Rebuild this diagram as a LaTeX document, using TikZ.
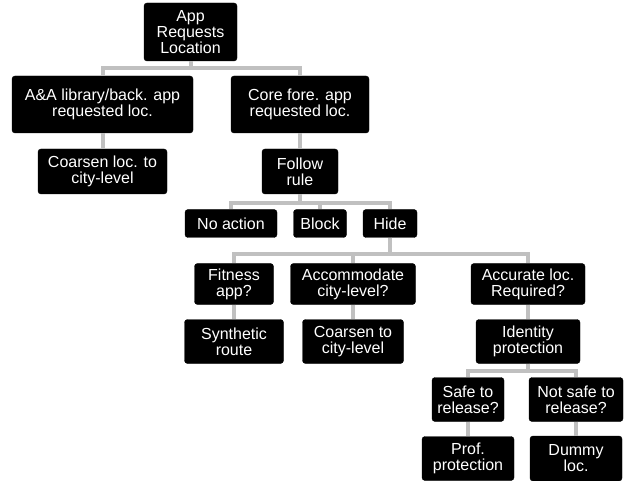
\documentclass[tikz,border=0pt]{standalone}
\usepackage{fontspec}
\setmainfont{Liberation Sans}
\usetikzlibrary{positioning}
\definecolor{linkgray}{RGB}{192,192,192}
\tikzset{
box/.style = {draw=black, fill=black, text=white, rounded corners=3pt, align=center, inner sep=0pt, font=\fontsize{16}{16}\selectfont},
link/.style = {draw=linkgray, line width=4pt}
}
\begin{document}
\begin{tikzpicture}[node distance=60pt]
		\useasboundingbox (0,0) rectangle (624pt,-481pt);
		\node [box, minimum width=93pt, minimum height=58pt] (root) at (190.5pt,-32pt) {App\\Requests\\Location};
		\node [box, below of=root, node distance=72.5pt, xshift=-88pt, minimum width=181pt, minimum height=57pt] (library) {A\&A library/back. app\\requested loc.};
		\node [box, right of=library, node distance=197.5pt, minimum width=138pt, minimum height=57pt] (core) {Core fore. app\\requested loc.};
		\node [box, below of=library, node distance=67pt, minimum width=129pt, minimum height=45pt] (coarsencity) {Coarsen loc. to\\city-level};
		\node [box, below of=core, node distance=67pt, minimum width=76pt, minimum height=45pt] (follow) {Follow\\rule};

		\node [box, below of=follow, node distance=52pt, xshift=-69pt, minimum width=92pt, minimum height=28pt] (noaction) {No action};
		\node [box, right of=noaction, node distance=89pt, minimum width=53pt, minimum height=28pt] (block) {Block};
		\node [box, right of=block, node distance=70pt, minimum width=54pt, minimum height=28pt] (hide) {Hide};

		\node [box, below of=noaction, node distance=60.5pt, xshift=3pt, minimum width=79pt, minimum height=41pt] (fitness) {Fitness\\app?};
		\node [box, right of=fitness, node distance=119pt, minimum width=125pt, minimum height=41pt] (accommodate) {Accommodate\\city-level?};
		\node [box, right of=accommodate, node distance=175pt, minimum width=114pt, minimum height=41pt] (accurate) {Accurate loc.\\Required?};

		\node [box, below of=fitness, node distance=57.5pt, minimum width=99pt, minimum height=44pt] (synthetic) {Synthetic\\route};
		\node [box, below of=accommodate, node distance=57.5pt, minimum width=101pt, minimum height=44pt] (coarsen) {Coarsen to\\city-level};
		\node [box, below of=accurate, node distance=57.5pt, minimum width=104pt, minimum height=44pt] (identity) {Identity\\protection};

		\node [box, below of=identity, node distance=58pt, xshift=-60pt, minimum width=72pt, minimum height=44pt] (safe) {Safe to\\release?};
		\node [box, right of=safe, node distance=108pt, minimum width=94pt, minimum height=44pt] (notsafe) {Not safe to\\release?};
		\node [box, below of=safe, node distance=59pt, minimum width=92pt, minimum height=44pt] (prof) {Prof.\\protection};
		\node [box, below of=notsafe, node distance=59pt, minimum width=92pt, minimum height=45pt] (dummy) {Dummy\\loc.};

		\draw [link] (root.south) -- ++(0,-7pt) -| (library.north);
		\draw [link] (root.south) -- ++(0,-7pt) -| (core.north);
		\draw [link] (library) -- (coarsencity);
		\draw [link] (core) -- (follow);

		\draw [link] (follow.south) -- ++(0,-8.5pt) -| (noaction.north);
		\draw [link] (follow.south) -- ++(0,-8.5pt) -| (block.north);
		\draw [link] (follow.south) -- ++(0,-8.5pt) -| (hide.north);

		\draw [link] (hide.south) -- ++(0,-16pt) -| (fitness.north);
		\draw [link] (hide.south) -- ++(0,-16pt) -| (accommodate.north);
		\draw [link] (hide.south) -- ++(0,-16pt) -| (accurate.north);
		\draw [link] (fitness) -- (synthetic);
		\draw [link] (accommodate) -- (coarsen);
		\draw [link] (accurate) -- (identity);

		\draw [link] (identity.south) -- ++(0,-7pt) -| (safe.north);
		\draw [link] (identity.south) -- ++(0,-7pt) -| (notsafe.north);
		\draw [link] (safe) -- (prof);
		\draw [link] (notsafe) -- (dummy);
\end{tikzpicture}
\end{document}
